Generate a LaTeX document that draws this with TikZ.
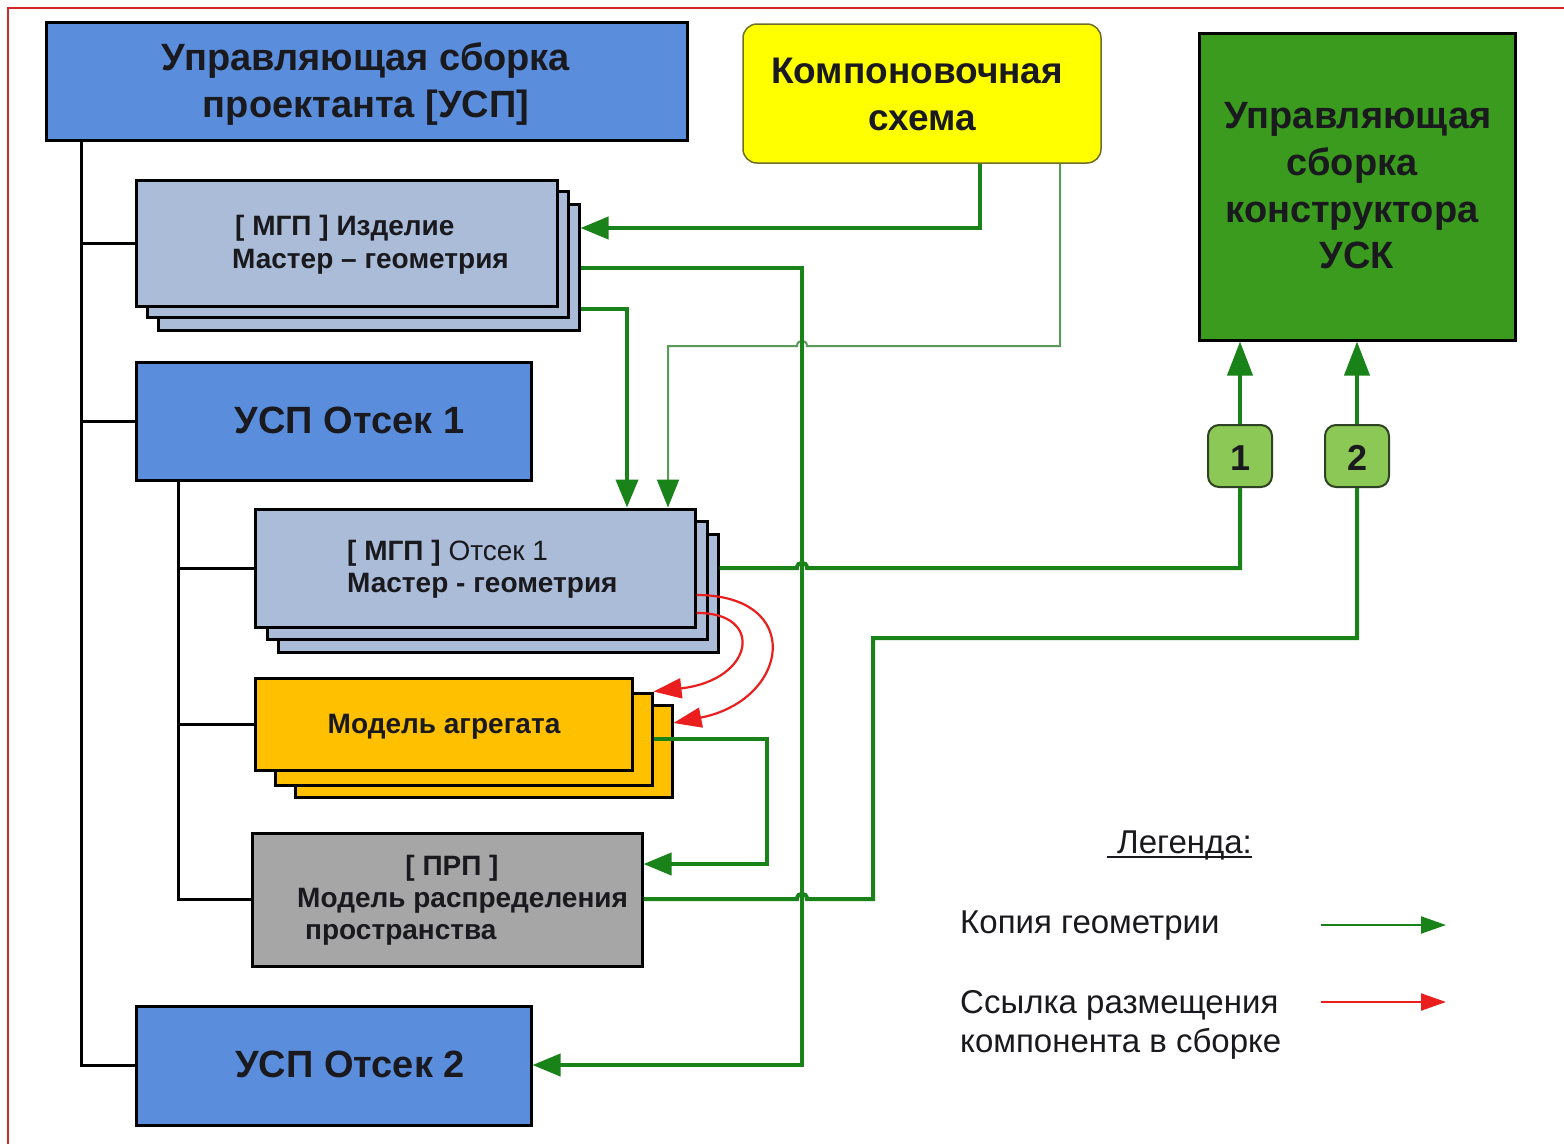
\documentclass[tikz,border=0pt]{standalone}
\usepackage{fontspec}
\setmainfont{Liberation Sans}
\usetikzlibrary{arrows.meta}
\definecolor{uspblue}{RGB}{90,142,220}
\definecolor{mgpblue}{RGB}{170,188,216}
\definecolor{agrorange}{RGB}{255,192,0}
\definecolor{prpgray}{RGB}{166,166,166}
\definecolor{kompyellow}{RGB}{255,255,0}
\definecolor{kompedge}{RGB}{110,110,40}
\definecolor{uskgreen}{RGB}{58,155,30}
\definecolor{badgegreen}{RGB}{140,200,85}
\definecolor{badgeedge}{RGB}{45,65,35}
\definecolor{linkgreen}{RGB}{25,130,25}
\definecolor{thingreen}{RGB}{90,155,90}
\definecolor{refred}{RGB}{235,30,30}
\definecolor{framered}{RGB}{210,40,40}
\definecolor{txtdark}{RGB}{25,25,30}
\newcommand{\fz}[1]{\fontsize{#1}{#1}\selectfont}
\begin{document}
\begin{tikzpicture}[x=1pt,y=-1pt,
  box/.style={draw=black, line width=3pt, inner sep=0pt},
  uspbox/.style={box, fill=uspblue},
  mgpbox/.style={box, fill=mgpblue, minimum width=421, minimum height=126},
  otkbox/.style={box, fill=mgpblue, minimum width=440, minimum height=118},
  agrbox/.style={box, fill=agrorange, minimum width=377, minimum height=92},
  prpbox/.style={box, fill=prpgray},
  kompbox/.style={draw=kompedge, line width=1.5pt, fill=kompyellow, rounded corners=14pt, inner sep=0pt},
  uskbox/.style={box, fill=uskgreen},
  badge/.style={draw=badgeedge, line width=2pt, fill=badgegreen, rounded corners=11pt, minimum width=64, minimum height=62, inner sep=0pt},
  bigtxt/.style={font=\fz{38}\bfseries, text=txtdark, anchor=base, inner sep=0pt},
  midtxt/.style={font=\fz{28}\bfseries, text=txtdark, anchor=base west, inner sep=0pt},
  legtxt/.style={font=\fz{33}, text=txtdark, anchor=base west, inner sep=0pt},
  tree/.style={draw=black, line width=3pt},
  gline/.style={draw=linkgreen, line width=4pt},
  thinline/.style={draw=thingreen, line width=2pt},
  rline/.style={draw=refred, line width=2.2pt},
  garr/.style={-{Triangle[length=28pt,width=22pt,color=linkgreen]}},
  garrup/.style={-{Triangle[length=34pt,width=25pt,color=linkgreen]}},
  rarr/.style={-{Triangle[length=28pt,width=20pt]}},
  legg/.style={draw=linkgreen, line width=2pt, -{Triangle[length=25pt,width=17pt]}},
  legr/.style={draw=refred, line width=2pt, -{Triangle[length=25pt,width=17pt]}}
]
\useasboundingbox (0,0) rectangle (1564,1144);
\fill[white] (0,0) rectangle (1564,1144);
% frame
\draw[framered, line width=2pt] (8,1144) -- (8,8) -- (1564,8);

% tree coordinates
\coordinate (tr) at (81,140);
\coordinate (sr) at (178,480);

% boxes
\node[uspbox, minimum width=641, minimum height=118] (usp) at (366.5,81) {};
\node[kompbox, minimum width=358, minimum height=139] (komp) at (922,93.5) {};
\node[uskbox, minimum width=316, minimum height=307] (usk) at (1357,186.5) {};

\node[mgpbox] (izd3) at (368.5,267) {};
\node[mgpbox] (izd2) at (357.5,254.5) {};
\node[mgpbox] (izd1) at (346.5,243) {};

\node[uspbox, minimum width=395, minimum height=118] (usp1) at (333.5,421) {};

\node[otkbox] (otk3) at (498,593) {};
\node[otkbox] (otk2) at (487,580) {};
\node[otkbox] (otk1) at (475,568) {};

\node[agrbox] (agr3) at (483.5,751) {};
\node[agrbox] (agr2) at (463.5,739) {};
\node[agrbox] (agr1) at (443.5,724) {};

\node[prpbox, minimum width=390, minimum height=133] (prp) at (447,899.5) {};
\node[uspbox, minimum width=395, minimum height=119] (usp2) at (333.5,1065.5) {};

\node[badge] (b1) at (1240,456) {};
\node[badge] (b2) at (1357,456) {};

% tree lines
\draw[tree] (tr) |- (usp2.west);
\draw[tree] (izd1.west -| tr) -- (izd1.west);
\draw[tree] (usp1.west -| tr) -- (usp1.west);
\draw[tree] (sr) |- (prp.west);
\draw[tree] (otk1.west -| sr) -- (otk1.west);
\draw[tree] (agr1.west -| sr) -- (agr1.west);

% texts
\node[bigtxt] (t1a) at (366,70) {Управляющая сборка};
\node[bigtxt] (t1b) at (366,117) {проектанта [УСП]};
\node[bigtxt, font=\fz{37}\bfseries] (t2a) at (917,83) {Компоновочная};
\node[bigtxt, font=\fz{37}\bfseries] (t2b) at (922,130) {схема};
\node[bigtxt] (t3a) at (1358,128) {Управляющая};
\node[bigtxt] (t3b) at (1352,175) {сборка};
\node[bigtxt] (t3c) at (1352,222) {конструктора};
\node[bigtxt] (t3d) at (1357,268) {УСК};
\node[midtxt] (t4a) at (235,235) {[ МГП ] Изделие};
\node[midtxt] (t4b) at (232,268) {Мастер – геометрия};
\node[bigtxt] (t5) at (349.5,433) {УСП Отсек 1};
\node[midtxt] (t6a) at (347,560) {[ МГП ] \mdseries Отсек 1};
\node[midtxt] (t6b) at (347,592) {Мастер - геометрия};
\node[midtxt, anchor=base] (t7) at (444,733) {Модель агрегата};
\node[midtxt, anchor=base] (t8a) at (452,875) {[ ПРП ]};
\node[midtxt] (t8b) at (297,907) {Модель распределения};
\node[midtxt] (t8c) at (305,939) {пространства};
\node[bigtxt] (t9) at (350,1077) {УСП Отсек 2};
\node[bigtxt, font=\fz{36}\bfseries] (n1) at (1240,470) {1};
\node[bigtxt, font=\fz{36}\bfseries] (n2) at (1357,470) {2};

% green geometry copies
\draw[gline, garr] (komp.south -| 980,0) |- (izd3.east |- 0,228);
\draw[thinline, garr] (komp.south -| 1060,0) -- (1060,346) -- (807,346)
   .. controls (807,339) and (797,339) .. (797,346) -- (668,346) -- (otk1.north -| 668,0);
\draw[gline, garr] (izd3.east |- 0,268) -- (802,268) -- (802,1065) -- (usp2.east |- 0,1065);
\draw[gline, garr] (izd3.east |- 0,309) -| (otk1.north -| 627,0);
\draw[gline] (otk3.east |- 0,568) -- (797,568) .. controls (797,561) and (807,561) .. (807,568)
   -- (1240,568) -- (b1.south);
\draw[gline, garrup] (b1.north) -- (usk.south -| b1.north);
\draw[gline] (prp.east |- 0,899) -- (797,899) .. controls (797,892) and (807,892) .. (807,899)
   -- (873,899) -- (873,638) -- (1357,638) -- (b2.south);
\draw[gline, garrup] (b2.north) -- (usk.south -| b2.north);
\draw[gline, garr] (agr2.east |- 0,739) -- (767,739) -- (767,864) -- (prp.east |- 0,864);

% red placement references
\draw[rline, rarr] (otk1.east |- 0,613) .. controls (765,612) and (755,680) .. (agr2.north east);
\draw[rline, rarr] (otk1.east |- 0,595) .. controls (805,595) and (790,700) .. (agr3.east |- 0,723);

% legend
\node[legtxt] (lg) at (1117,853) {Легенда:};
\draw[txtdark, line width=1.6pt] ([xshift=-10pt,yshift=-4pt]lg.base west) -- ([yshift=-4pt]lg.base east);
\node[legtxt] (lk) at (960,933) {Копия геометрии};
\node[legtxt] (ls1) at (960,1013) {Ссылка размещения};
\node[legtxt] (ls2) at (960,1052) {компонента в сборке};
\coordinate (lga) at (1321,925);
\coordinate (lgb) at (1446,925);
\draw[legg] (lga) -- (lgb);
\coordinate (lra) at (1321,1002);
\coordinate (lrb) at (1446,1002);
\draw[legr] (lra) -- (lrb);
\end{tikzpicture}
\end{document}
